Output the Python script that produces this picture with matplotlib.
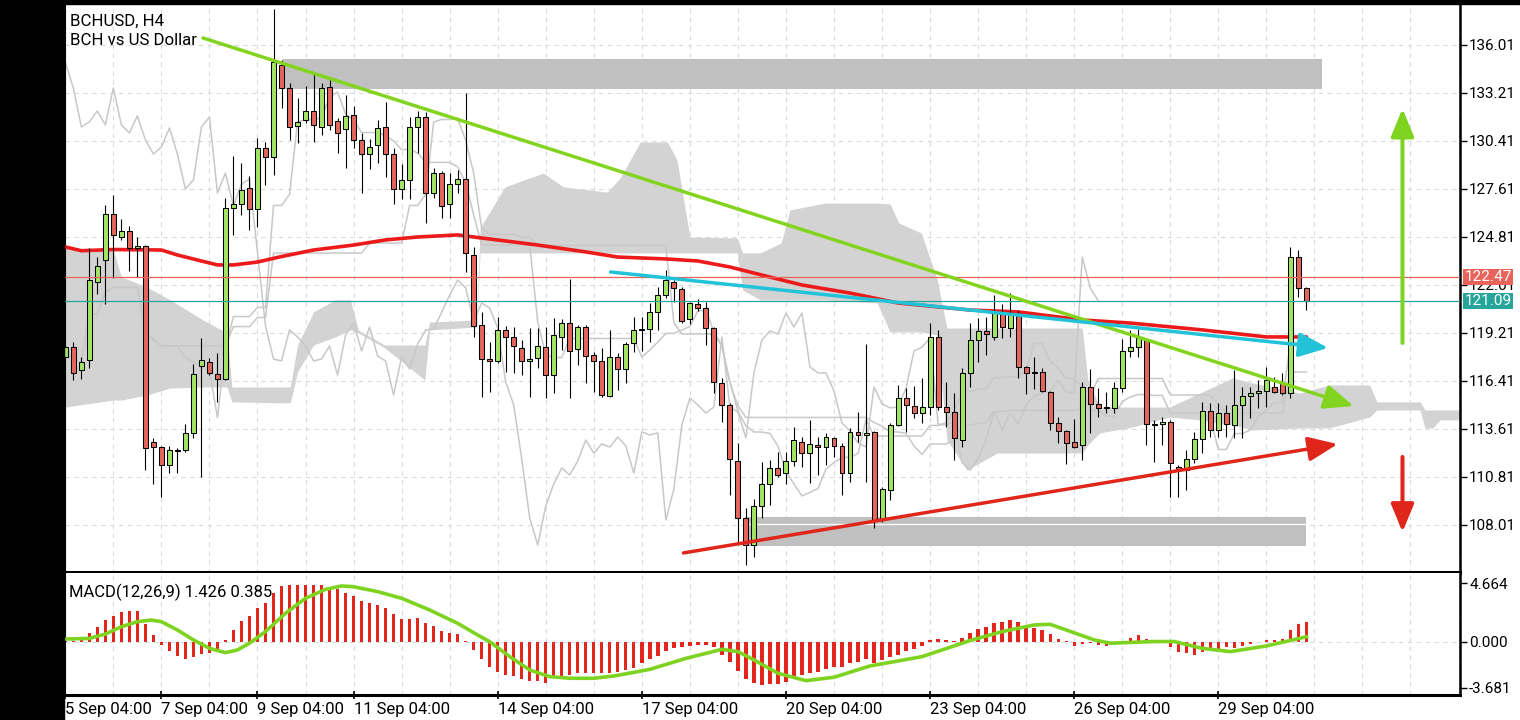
import matplotlib
matplotlib.use('Agg')
import matplotlib.pyplot as plt
import matplotlib.transforms as mtransforms
from matplotlib.patches import Rectangle, FancyArrowPatch
import numpy as np
import pandas as pd

plt.rcParams['font.family'] = ['Roboto', 'DejaVu Sans']

#==============================================================================
# data (H4 bars, bar 0 = 5 Sep 04:00)

opens = [117.81, 118.39, 117.05, 117.64, 122.19, 123.47, 126.15, 124.81, 125.16, 124.17,
         124.29, 112.85, 112.56, 111.51, 112.33, 112.39, 113.38, 117.29, 117.52, 116.82,
         116.53, 126.50, 126.73, 127.67, 126.44, 130.00, 129.48, 134.84, 133.50, 131.29,
         131.64, 132.16, 131.23, 133.56, 131.58, 131.11, 131.93, 130.47, 129.65, 130.18,
         131.23, 129.65, 127.61, 128.14, 131.23, 131.81, 127.38, 128.54, 126.73, 127.90,
         128.19, 123.76, 119.68, 117.69, 117.58, 119.39, 118.98, 118.34, 117.58, 117.75,
         118.39, 116.76, 118.98, 119.79, 118.28, 119.56, 117.93, 117.58, 115.54, 117.81,
         117.11, 118.63, 119.39, 119.44, 120.42, 121.42, 122.19, 121.78, 120.02, 120.90,
         120.67, 119.50, 116.29, 115.01, 111.75, 108.42, 106.85, 109.12, 110.40, 111.34,
         111.04, 111.75, 112.85, 112.21, 112.68, 112.56, 113.09, 112.62, 111.04, 113.44,
         113.26, 113.44, 108.30, 110.05, 113.84, 115.42, 114.95, 114.54, 114.89, 118.98,
         114.89, 114.60, 112.97, 116.88, 118.80, 119.33, 118.98, 120.32, 119.50, 120.20,
         117.23, 116.94, 116.94, 115.77, 113.96, 113.49, 112.85, 112.68, 116.06, 115.07,
         114.84, 114.84, 116.00, 118.16, 118.39, 118.80, 113.90, 113.90, 114.02, 111.39,
         111.22, 111.86, 113.03, 114.66, 113.55, 114.54, 113.84, 115.01, 115.54, 115.71,
         115.83, 116.06, 116.29, 115.71, 123.64, 121.84]
highs = [118.51, 118.69, 117.81, 124.17, 123.64, 126.68, 127.26, 125.86, 125.45, 124.81,
         124.35, 113.09, 112.60, 112.62, 112.50, 113.90, 117.40, 118.92, 117.75, 118.04,
         127.09, 129.53, 129.13, 128.37, 130.59, 130.35, 138.11, 135.14, 133.79, 132.92,
         133.62, 134.43, 133.79, 134.09, 131.75, 133.09, 132.45, 130.88, 130.53, 131.64,
         132.69, 130.00, 129.07, 131.81, 132.16, 132.10, 128.84, 128.66, 128.54, 128.72,
         133.21, 124.23, 120.42, 118.69, 120.14, 119.62, 119.56, 118.80, 119.50, 119.50,
         119.56, 120.08, 120.02, 122.36, 119.68, 119.68, 118.10, 118.34, 119.39, 118.04,
         118.69, 120.14, 120.14, 120.96, 121.89, 122.89, 122.30, 121.89, 121.02, 121.19,
         121.02, 119.56, 116.59, 115.13, 112.79, 109.00, 109.52, 111.69, 111.80, 112.27,
         112.27, 113.73, 113.14, 114.14, 113.14, 113.38, 113.14, 112.79, 113.67, 114.60,
         118.57, 113.50, 110.23, 113.96, 116.18, 116.00, 116.12, 116.59, 119.79, 119.39,
         116.35, 115.71, 117.17, 119.79, 120.08, 120.14, 121.42, 120.90, 121.54, 120.49,
         117.30, 117.81, 117.17, 115.80, 114.31, 113.55, 114.19, 116.35, 117.11, 116.00,
         115.77, 116.35, 118.86, 119.39, 119.44, 118.85, 114.14, 114.31, 114.14, 111.51,
         112.39, 113.44, 115.19, 115.13, 115.13, 115.01, 117.05, 116.06, 116.06, 116.47,
         117.23, 116.65, 116.88, 124.23, 124.05, 121.90]
lows = [117.64, 116.47, 116.53, 117.17, 121.49, 120.90, 122.42, 124.64, 122.83, 122.48,
        111.22, 110.40, 109.64, 111.04, 111.04, 112.27, 113.09, 110.81, 116.76, 115.19,
        116.47, 124.93, 126.09, 125.22, 125.39, 127.84, 128.43, 132.34, 130.47, 130.29,
        131.46, 130.35, 130.76, 131.05, 129.71, 128.84, 130.00, 127.38, 128.78, 129.13,
        128.31, 126.73, 127.03, 127.03, 129.71, 125.63, 127.09, 125.92, 125.92, 127.38,
        122.77, 118.98, 115.48, 115.77, 117.46, 116.94, 116.88, 116.76, 115.48, 117.17,
        115.42, 115.71, 118.22, 115.42, 117.34, 116.29, 115.77, 115.50, 115.48, 115.89,
        116.29, 118.10, 118.16, 118.69, 119.39, 121.25, 121.02, 119.79, 119.74, 120.49,
        118.51, 115.71, 114.02, 109.76, 107.02, 105.68, 106.15, 108.42, 109.17, 110.81,
        110.40, 111.45, 111.39, 110.46, 110.93, 111.51, 111.98, 109.76, 110.52, 112.85,
        110.52, 107.84, 108.18, 109.47, 113.79, 113.44, 114.25, 113.96, 114.43, 114.72,
        113.73, 111.80, 112.56, 116.06, 117.52, 117.93, 118.80, 118.92, 118.98, 116.59,
        115.65, 115.94, 115.77, 113.55, 112.79, 111.57, 112.50, 111.80, 113.38, 114.31,
        114.54, 114.54, 115.77, 117.81, 117.81, 112.68, 111.69, 112.68, 109.64, 109.64,
        110.05, 111.63, 112.21, 113.14, 113.14, 113.14, 113.09, 113.09, 114.25, 114.84,
        114.89, 115.71, 115.59, 115.42, 121.31, 120.55]
closes = [118.39, 116.88, 117.52, 122.30, 123.12, 126.15, 124.93, 125.16, 124.17, 124.29,
          112.50, 112.56, 111.51, 112.39, 112.39, 113.38, 116.82, 117.64, 116.88, 116.53,
          126.50, 126.73, 127.55, 126.44, 130.00, 129.48, 135.02, 133.50, 131.23, 131.52,
          132.16, 131.35, 133.50, 131.35, 130.88, 131.87, 130.47, 129.65, 130.06, 131.17,
          129.65, 127.61, 128.14, 131.23, 131.81, 127.38, 128.54, 126.62, 127.90, 128.19,
          123.88, 119.62, 117.69, 117.58, 119.39, 118.98, 118.45, 117.58, 117.69, 118.45,
          116.76, 119.09, 119.79, 118.16, 119.56, 117.87, 117.58, 115.59, 117.81, 117.11,
          118.57, 119.39, 119.44, 120.42, 121.42, 122.30, 121.84, 119.91, 120.96, 120.67,
          119.50, 116.35, 115.01, 111.86, 108.42, 106.85, 109.12, 110.40, 111.34, 110.93,
          111.75, 112.97, 112.21, 112.74, 112.56, 113.14, 112.62, 111.04, 113.44, 113.26,
          113.38, 108.30, 110.11, 113.84, 115.42, 115.01, 114.54, 114.89, 118.98, 114.89,
          114.60, 113.09, 116.88, 118.80, 119.33, 119.15, 120.37, 119.56, 120.37, 117.23,
          116.88, 116.88, 115.83, 113.96, 113.49, 112.79, 112.56, 116.06, 115.07, 114.84,
          114.89, 116.00, 118.16, 118.39, 118.92, 113.90, 113.84, 114.02, 111.63, 111.22,
          111.86, 113.03, 114.66, 113.55, 114.54, 113.90, 115.01, 115.54, 115.71, 115.83,
          116.47, 115.77, 115.71, 123.64, 121.84, 121.09]

# red moving average (bar, price)
ma_bar = [0, 2, 6, 12, 14, 17, 19, 21, 23, 24, 27, 31, 36, 40, 44, 49, 52, 56, 59, 65,
          69, 75, 79, 83, 87, 92, 98, 104, 113, 119, 127, 133, 142, 150, 155]
ma_val = [124.23, 124.01, 124.08, 124.05, 123.76, 123.41, 123.18, 123.18, 123.29, 123.35,
          123.67, 124.05, 124.34, 124.64, 124.81, 124.93, 124.75, 124.52, 124.34, 123.94,
          123.64, 123.53, 123.41, 123.06, 122.59, 122.01, 121.54, 120.96, 120.55, 120.44,
          119.97, 119.79, 119.39, 118.98, 118.98]

# ichimoku cloud edges (bar, upper, lower)
cloud_bar = [0, 6, 7, 10.2, 13.1, 17.2, 20.2, 20.8, 28.1, 29.0,
             31.0, 33.7, 35.6, 36.6, 39.9, 44.9, 45.5, 51.4, 51.8, 54.9,
             59.7, 62.2, 67.7, 69.3, 71.8, 75.2, 76.4, 78.0, 83.9, 84.6,
             86.8, 89.4, 90.5, 94.9, 101.4, 103.0, 104.1, 106.9, 108.9, 110.1,
             112.6, 116.4, 127.0, 127.7, 129.2, 133.3, 137.9, 141.7, 145.8, 148.3,
             154.2, 157.9, 162.9, 163.8, 169.2, 169.8, 170.8, 171.7, 174.2]
cloud_top = [124.17, 124.05, 122.48, 121.89, 121.14, 119.97, 119.21, 116.06, 116.06, 118.51,
             120.44, 121.14, 121.14, 119.39, 118.51, 118.51, 119.85, 119.97, 125.34, 127.73,
             128.54, 127.73, 127.43, 128.25, 130.35, 130.35, 129.30, 124.81, 124.75, 123.88,
             123.88, 124.46, 126.39, 126.79, 126.79, 126.74, 125.63, 125.04, 122.30, 119.50,
             119.50, 119.50, 119.50, 116.47, 114.89, 114.89, 114.89, 115.71, 116.59, 116.29,
             115.71, 116.18, 116.18, 115.19, 115.19, 114.72, 114.72, 114.72, 114.72]
cloud_bot = [114.89, 115.30, 115.30, 115.59, 116.00, 116.06, 116.06, 115.19, 115.13, 116.94,
             118.51, 118.98, 119.39, 119.21, 118.34, 116.47, 119.39, 119.56, 123.88, 123.88,
             123.88, 123.88, 123.88, 123.88, 123.88, 123.88, 123.88, 123.88, 123.88, 121.72,
             121.14, 121.14, 121.14, 121.14, 120.96, 119.27, 119.27, 119.27, 119.09, 112.97,
             111.22, 112.21, 112.21, 112.68, 113.38, 113.73, 114.31, 114.14, 113.84, 113.55,
             113.67, 113.67, 114.31, 114.72, 114.72, 113.67, 113.67, 114.14, 114.14]

# MACD(12,26,9): main as histogram, signal as line
macd_hist = [0.05, 0.08, 0.15, 0.72, 1.19, 1.72, 2.04, 2.39, 2.47, 2.47,
             1.41, 0.53, -0.26, -0.71, -1.14, -1.35, -1.19, -1.00, -0.87, -0.61,
             0.14, 0.93, 1.65, 2.04, 2.65, 3.10, 3.90, 4.43, 4.51, 4.51,
             4.51, 4.51, 4.51, 4.24, 4.16, 3.85, 3.63, 3.26, 3.05, 2.92,
             2.65, 2.18, 1.78, 1.78, 1.86, 1.51, 1.25, 0.88, 0.72, 0.61,
             0.02, -0.66, -1.40, -2.04, -2.38, -2.65, -2.73, -2.97, -3.10, -3.10,
             -3.26, -2.83, -2.73, -2.65, -2.51, -2.51, -2.51, -2.46, -2.46, -2.38,
             -2.25, -2.10, -1.67, -1.40, -1.12, -0.71, -0.53, -0.45, -0.34, -0.26,
             -0.26, -0.45, -1.06, -1.59, -2.30, -2.99, -3.31, -3.42, -3.36, -3.36,
             -3.18, -2.91, -2.65, -2.51, -2.38, -2.20, -2.04, -1.99, -1.72, -1.59,
             -1.40, -1.67, -1.45, -1.24, -1.06, -0.71, -0.61, -0.34, 0.14, 0.19,
             0.14, 0.06, 0.28, 0.72, 0.99, 1.19, 1.51, 1.59, 1.72, 1.57,
             1.19, 1.06, 0.93, 0.61, 0.22, 0.02, -0.34, -0.18, -0.12, -0.26,
             -0.34, -0.12, -0.07, 0.28, 0.54, 0.22, 0.06, 0.06, -0.45, -0.79,
             -0.93, -1.06, -0.79, -0.66, -0.61, -0.45, -0.53, -0.34, -0.18, 0.01,
             0.14, 0.14, 0.19, 0.93, 1.41, 1.55]
sig_bar = [0, 3, 5, 7, 9, 10.7, 12, 14, 16, 18, 20, 21.5, 23, 25, 27.5, 30, 32.5, 34.5, 36,
           39, 42, 45.5, 49, 51.5, 53, 55.5, 58, 60.5, 63, 66, 68.5, 71, 73, 77.5, 82, 84,
           86, 89, 92.5, 96, 100.5, 107, 113, 117, 121, 123, 125, 128.5, 130.5, 136, 138.5,
           142, 145.5, 150, 155]
sig_val = [0.21, 0.26, 0.61, 1.19, 1.59, 1.72, 1.59, 0.93, 0.14, -0.53, -0.87, -0.66, -0.12,
           0.80, 2.26, 3.45, 4.16, 4.43, 4.37, 3.98, 3.45, 2.52, 1.46, 0.53, 0.0, -1.19,
           -2.25, -2.78, -2.91, -2.91, -2.73, -2.44, -2.20, -1.33, -0.61, -0.79, -1.45,
           -2.51, -3.10, -2.83, -1.93, -1.19, 0.09, 0.80, 1.33, 1.38, 0.93, 0.14, -0.12,
           0.01, 0.01, -0.53, -0.79, -0.34, 0.39]

price_ticks = [108.01, 110.81, 113.61, 116.41, 119.21, 122.01, 124.81, 127.61, 130.41,
               133.21, 136.01]
macd_ticks = [4.664, 0.0, -3.681]
macd_tick_labels = ['4.664', '0.000', '-3.681']
date_bars = [0, 12, 24, 36, 54, 72, 90, 108, 126, 144]
date_labels = ['5 Sep 04:00', '7 Sep 04:00', '9 Sep 04:00', '11 Sep 04:00', '14 Sep 04:00',
               '17 Sep 04:00', '20 Sep 04:00', '23 Sep 04:00', '26 Sep 04:00', '29 Sep 04:00']

ask_price = 122.47
bid_price = 121.09

# drawn objects (bar, price)
resist_zone = (27.2, 157.0, 133.44, 135.19)
support_zone = (84.9, 155.0, 106.79, 108.47)
green_trend = ((17.2, 136.42), (160.9, 114.95))
cyan_trend = ((68.1, 122.77), (157.7, 118.34))
red_trend = ((77.2, 106.38), (158.9, 112.73))
up_arrow = ((167.0, 118.63), (167.0, 132.30))
down_arrow = ((167.0, 111.98), (167.0, 107.60))

#==============================================================================

W, H = 1520, 720
def fx(px):
    return px / W
def fy(py):
    return 1 - py / H

fig = plt.figure(figsize=(15.2, 7.2), dpi=100)
fig.patches.append(Rectangle((0, 0), fx(64), 1, transform=fig.transFigure,
                             color='black', zorder=0))
fig.patches.append(Rectangle((0, fy(3.5)), 1, 3.5 / H, transform=fig.transFigure,
                             color='black', zorder=0))

ax = fig.add_axes([fx(65), fy(573), fx(1459.5) - fx(65), fy(3.5) - fy(573)])
axm = fig.add_axes([fx(65), fy(695), fx(1459.5) - fx(65), fy(573) - fy(695)])

bars = np.arange(len(closes))
o = np.array(opens); h = np.array(highs); l = np.array(lows); c = np.array(closes)

grid_kw = dict(color='#d6dbe0', lw=0.8, ls=(0, (4, 4)), zorder=0)
for b in range(0, 175, 6):
    ax.axvline(b, **grid_kw)
    axm.axvline(b, **grid_kw)
for p in price_ticks:
    ax.axhline(p, **grid_kw)
axm.axhline(0, **grid_kw)

# ichimoku
ax.fill_between(cloud_bar, cloud_top, cloud_bot, color='#d3d3d3', lw=0, zorder=1)
hs = pd.Series(h); ls_ = pd.Series(l)
tenkan = (hs.rolling(9, min_periods=1).max() + ls_.rolling(9, min_periods=1).min()) / 2
kijun = (hs.rolling(26, min_periods=1).max() + ls_.rolling(26, min_periods=1).min()) / 2
ax.plot(bars, tenkan, color='#c8c8c8', lw=1.1, zorder=2)
ax.plot(bars, kijun, color='#c8c8c8', lw=1.1, zorder=2)
ax.plot(bars[:-26], c[26:], color='#c8c8c8', lw=1.1, zorder=2)

# zones
for x0, x1, y0, y1 in (resist_zone, support_zone):
    ax.add_patch(Rectangle((x0, y0), x1 - x0, y1 - y0, color='#c0c0c0', lw=0, zorder=1.5))
ax.plot([support_zone[0], support_zone[1]], [108.05, 108.05], color='white', lw=0.9, zorder=1.6)

# moving average
ax.plot(ma_bar, ma_val, color='#ec1a1a', lw=2.6, zorder=3, solid_capstyle='round')

# candles
up = c >= o
body_col = np.where(up, '#a3e466', '#e2665a')
ax.vlines(bars, l, h, color='black', lw=0.8, zorder=4)
ax.bar(bars, np.maximum(np.abs(c - o), 0.04), bottom=np.minimum(o, c), width=0.62,
       color=body_col, edgecolor='black', linewidth=0.75, zorder=5)

ax.axhline(ask_price, color='#e8645a', lw=0.9, zorder=6)
ax.axhline(bid_price, color='#26a69a', lw=0.9, zorder=6)

# trend lines with arrows
for (p0, p1), col in ((green_trend, '#82d41f'), (cyan_trend, '#22c3d9'), (red_trend, '#e0261b')):
    ax.add_patch(FancyArrowPatch(p0, p1, arrowstyle='-|>,head_length=1.8,head_width=0.75',
                                 mutation_scale=10, color=col, lw=2.5, shrinkA=0, shrinkB=0,
                                 zorder=7))
for (p0, p1), col in ((up_arrow, '#7ed321'), (down_arrow, '#e0261b')):
    ax.add_patch(FancyArrowPatch(p0, p1, arrowstyle='-|>,head_length=1.7,head_width=0.7',
                                 mutation_scale=10, color=col, lw=2.9, shrinkA=0, shrinkB=0,
                                 zorder=7))

ax.set_xlim(-0.04, 174.12)
ax.set_ylim(105.21, 138.43)
ax.yaxis.tick_right()
ax.set_yticks(price_ticks)
ax.set_yticklabels(['%.2f' % p for p in price_ticks])
ax.tick_params(axis='y', direction='out', length=5, width=1, pad=2, labelsize=11,
               colors='black')
ax.tick_params(axis='x', bottom=False, labelbottom=False)
ax.spines['top'].set_visible(False)
ax.spines['bottom'].set_linewidth(2.9)
ax.spines['right'].set_linewidth(1.8)
ax.spines['left'].set_linewidth(0.8)

trans = mtransforms.blended_transform_factory(ax.transAxes, ax.transData)
for val, col in ((ask_price, '#e8645a'), (bid_price, '#26a69a')):
    ax.text(1.0 + 5.0 / 1394.5, val, '%.2f' % val, transform=trans, ha='left', va='center',
            fontsize=11, color='white', clip_on=False, zorder=10,
            bbox=dict(boxstyle='square,pad=0.08', fc=col, ec='none'))

fig.text(fx(70), fy(25.7), 'BCHUSD, H4', fontsize=12.2, va='baseline')
fig.text(fx(70), fy(45), 'BCH vs US Dollar', fontsize=12.2, va='baseline')

# MACD panel
axm.bar(bars, macd_hist, width=0.42, color='#e3261b', zorder=2)
axm.plot(sig_bar, sig_val, color='#7ed321', lw=2.6, zorder=3, solid_joinstyle='round')
axm.set_xlim(-0.04, 174.12)
axm.set_ylim(-4.24, 5.46)
axm.yaxis.tick_right()
axm.set_yticks(macd_ticks)
axm.set_yticklabels(macd_tick_labels)
axm.tick_params(axis='y', direction='out', length=5, width=1, pad=2, labelsize=11)
axm.set_xticks(date_bars)
axm.set_xticklabels(date_labels, ha='left')
axm.tick_params(axis='x', direction='inout', length=6, width=1.2, pad=2, labelsize=12)
axm.spines['top'].set_visible(False)
axm.spines['bottom'].set_linewidth(2.2)
axm.spines['right'].set_linewidth(1.8)
axm.spines['left'].set_linewidth(0.8)
fig.text(fx(69), fy(597), 'MACD(12,26,9) 1.426 0.385', fontsize=12, va='baseline')

fig.savefig('out.png', dpi=100)
